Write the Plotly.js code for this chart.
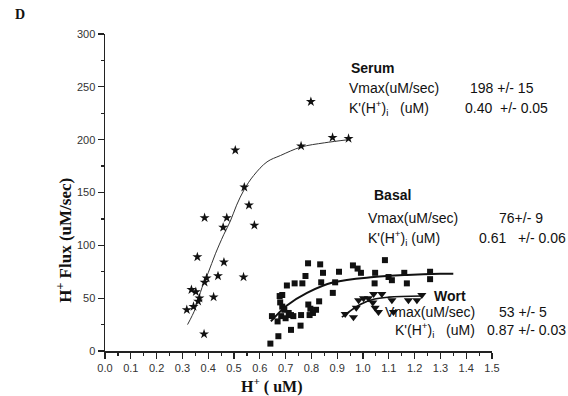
<!DOCTYPE html>
<html>
<head>
<meta charset="utf-8">
<script src="https://cdn.plot.ly/plotly-3.0.1.min.js"></script>
<style>html,body{margin:0;padding:0;background:#fff;}#chart{width:568px;height:396px;}</style>
</head>
<body>
<div id="chart"></div>
<script>
// Serum (stars)
const serumX = [0.505,0.540,0.558,0.579,0.386,0.472,0.458,0.358,0.461,0.438,0.537,0.394,0.386,0.335,0.352,0.366,0.421,0.361,0.343,0.317,0.384,0.798,0.760,0.882,0.944];
const serumY = [190,155,138,119,126,126,117,89,84,71,70,69,65,58,56,50,51,47,42,39,16,236,194,202,201];
// Basal (squares)
const basalX = [0.787,0.834,0.845,0.907,0.777,0.705,0.735,0.765,0.838,0.892,0.883,0.687,0.677,0.679,0.687,0.695,0.712,0.721,0.788,0.796,0.830,0.818,0.806,0.793,0.760,0.647,0.683,0.669,0.721,0.758,0.672,0.641,0.700,0.730,
  0.961,0.979,0.992,1.085,1.047,1.099,1.112,1.160,1.170,1.260,1.260,1.045];
const basalY = [83,82,74,75,71,62,64,64,65,65,55,53,52,46,42,39,36,34,44,40,47,39,36,34,34,33,33,28,20,24,14,7,31,33,
  81,78,74,86,74,70,67,74,64,75,68,64];
// Wort (down triangles)
const wortX = [0.931,0.963,0.974,0.983,1.002,1.021,1.041,1.038,1.047,1.060,1.073,1.112,1.118,1.176,1.209,1.228];
const wortY = [35,32,41,48,50,50,54,46,41,37,54,48,37,48,48,53];
// Fitted curves
const fitSerumX = [0.32,0.35,0.376,0.40,0.428,0.46,0.486,0.51,0.54,0.576,0.628,0.68,0.76,0.85,0.944];
const fitSerumY = [25,40,60,74,92,110,123,138,153,166,179,185,193,197,200];
const fitBasalX = [0.643,0.705,0.783,0.886,1.041,1.170,1.299,1.35];
const fitBasalY = [28,43,55,65,70,72,73,73];
const fitWortX = [0.918,0.989,1.041,1.10,1.228];
const fitWortY = [32,44,49,51,52];
// Labels
const groupNames = ['Serum','Basal','Wort'];
const vmaxText = ['198 +/- 15','76+/- 9','53 +/- 5'];
const kText = ['0.40&nbsp;&nbsp;+/- 0.05','0.61&nbsp;&nbsp;&nbsp;+/- 0.06','0.87 +/- 0.03'];

const black = '#111';
const traces = [
  {x: fitSerumX, y: fitSerumY, mode:'lines', line:{color:'#333', width:1, shape:'spline'}, hoverinfo:'skip'},
  {x: fitBasalX, y: fitBasalY, mode:'lines', line:{color:black, width:2, shape:'spline'}, hoverinfo:'skip'},
  {x: fitWortX, y: fitWortY, mode:'lines', line:{color:black, width:1.6, shape:'spline'}, hoverinfo:'skip'},
  {x: serumX, y: serumY, mode:'markers', marker:{symbol:'star', size:7.5, color:black}},
  {x: basalX, y: basalY, mode:'markers', marker:{symbol:'square', size:6, color:black}},
  {x: wortX, y: wortY, mode:'markers', marker:{symbol:'triangle-down', size:8, color:black}}
];

const XMAX = 1.5, YMAX = 300;
const tf = {family:'Liberation Sans, Arial, sans-serif', size:14, color:black};
function ann(x, y, text) {
  // positions given in axis units, placed in paper space so they may sit outside the plot
  return {x:x/XMAX, y:y/YMAX, xref:'paper', yref:'paper', text:text, showarrow:false, xanchor:'left', yanchor:'middle', font:tf};
}
const kLabel = "K'(H<sup>+</sup>)<sub>i</sub>";
const annotations = [
  ann(0.944, 268, '<b>'+groupNames[0]+'</b>'),
  ann(0.938, 249, 'Vmax(uM/sec)'),
  ann(1.408, 249, vmaxText[0]),
  ann(0.938, 230, kLabel + '&nbsp;&nbsp;&nbsp;(uM)'),
  ann(1.389, 230, kText[0]),
  ann(1.034, 148, '<b>'+groupNames[1]+'</b>'),
  ann(1.012, 126, 'Vmax(uM/sec)'),
  ann(1.518, 126, vmaxText[1]),
  ann(1.012, 107, kLabel + ' (uM)'),
  ann(1.441, 107, kText[1]),
  ann(1.267, 52, '<b>'+groupNames[2]+'</b>'),
  ann(1.079, 36.5, 'Vmax(uM/sec)'),
  ann(1.518, 36.5, vmaxText[2]),
  ann(1.118, 20, kLabel + '&nbsp;&nbsp;&nbsp;(uM)'),
  ann(1.473, 20, kText[2]),
  {x:-0.107, y:0.35, xref:'paper', yref:'paper', text:'<b>H<sup>+</sup> Flux (uM/sec)</b>', textangle:-90, showarrow:false, xanchor:'center', yanchor:'middle', font:{family:'Liberation Serif, Times New Roman, serif', size:17, color:black}},
  {x:0.43, y:-0.108, xref:'paper', yref:'paper', text:'<b>H<sup>+</sup> ( uM)</b>', showarrow:false, xanchor:'center', yanchor:'middle', font:{family:'Liberation Serif, Times New Roman, serif', size:16, color:black}},
  {x:-0.2206, y:1.063, xref:'paper', yref:'paper', text:'<b>D</b>', showarrow:false, xanchor:'center', yanchor:'middle', font:{family:'Liberation Serif, Times New Roman, serif', size:14, color:black}}
];

const axisCommon = {
  showgrid:false, zeroline:false, showline:true, linecolor:'#222', linewidth:1.5,
  ticks:'outside', ticklen:6, tickwidth:1.2, tickcolor:'#222',
  tickfont:{family:'Liberation Sans, Arial, sans-serif', size:11, color:'#333'}
};
const layout = {
  width:568, height:396,
  margin:{l:104.5, r:76, t:34, b:45, pad:0},
  paper_bgcolor:'#fff', plot_bgcolor:'#fff',
  showlegend:false,
  xaxis: Object.assign({}, axisCommon, {range:[0,XMAX], dtick:0.1, tick0:0, tickformat:'.1f', ticklabelstandoff:0,
    minor:{dtick:0.05, ticks:'outside', ticklen:3, tickcolor:'#222'}}),
  yaxis: Object.assign({}, axisCommon, {range:[0,YMAX], dtick:50, tick0:0,
    minor:{dtick:25, ticks:'outside', ticklen:3, tickcolor:'#222'}}),
  annotations: annotations
};
Plotly.newPlot('chart', traces, layout, {staticPlot:true, displayModeBar:false});
</script>
</body>
</html>
